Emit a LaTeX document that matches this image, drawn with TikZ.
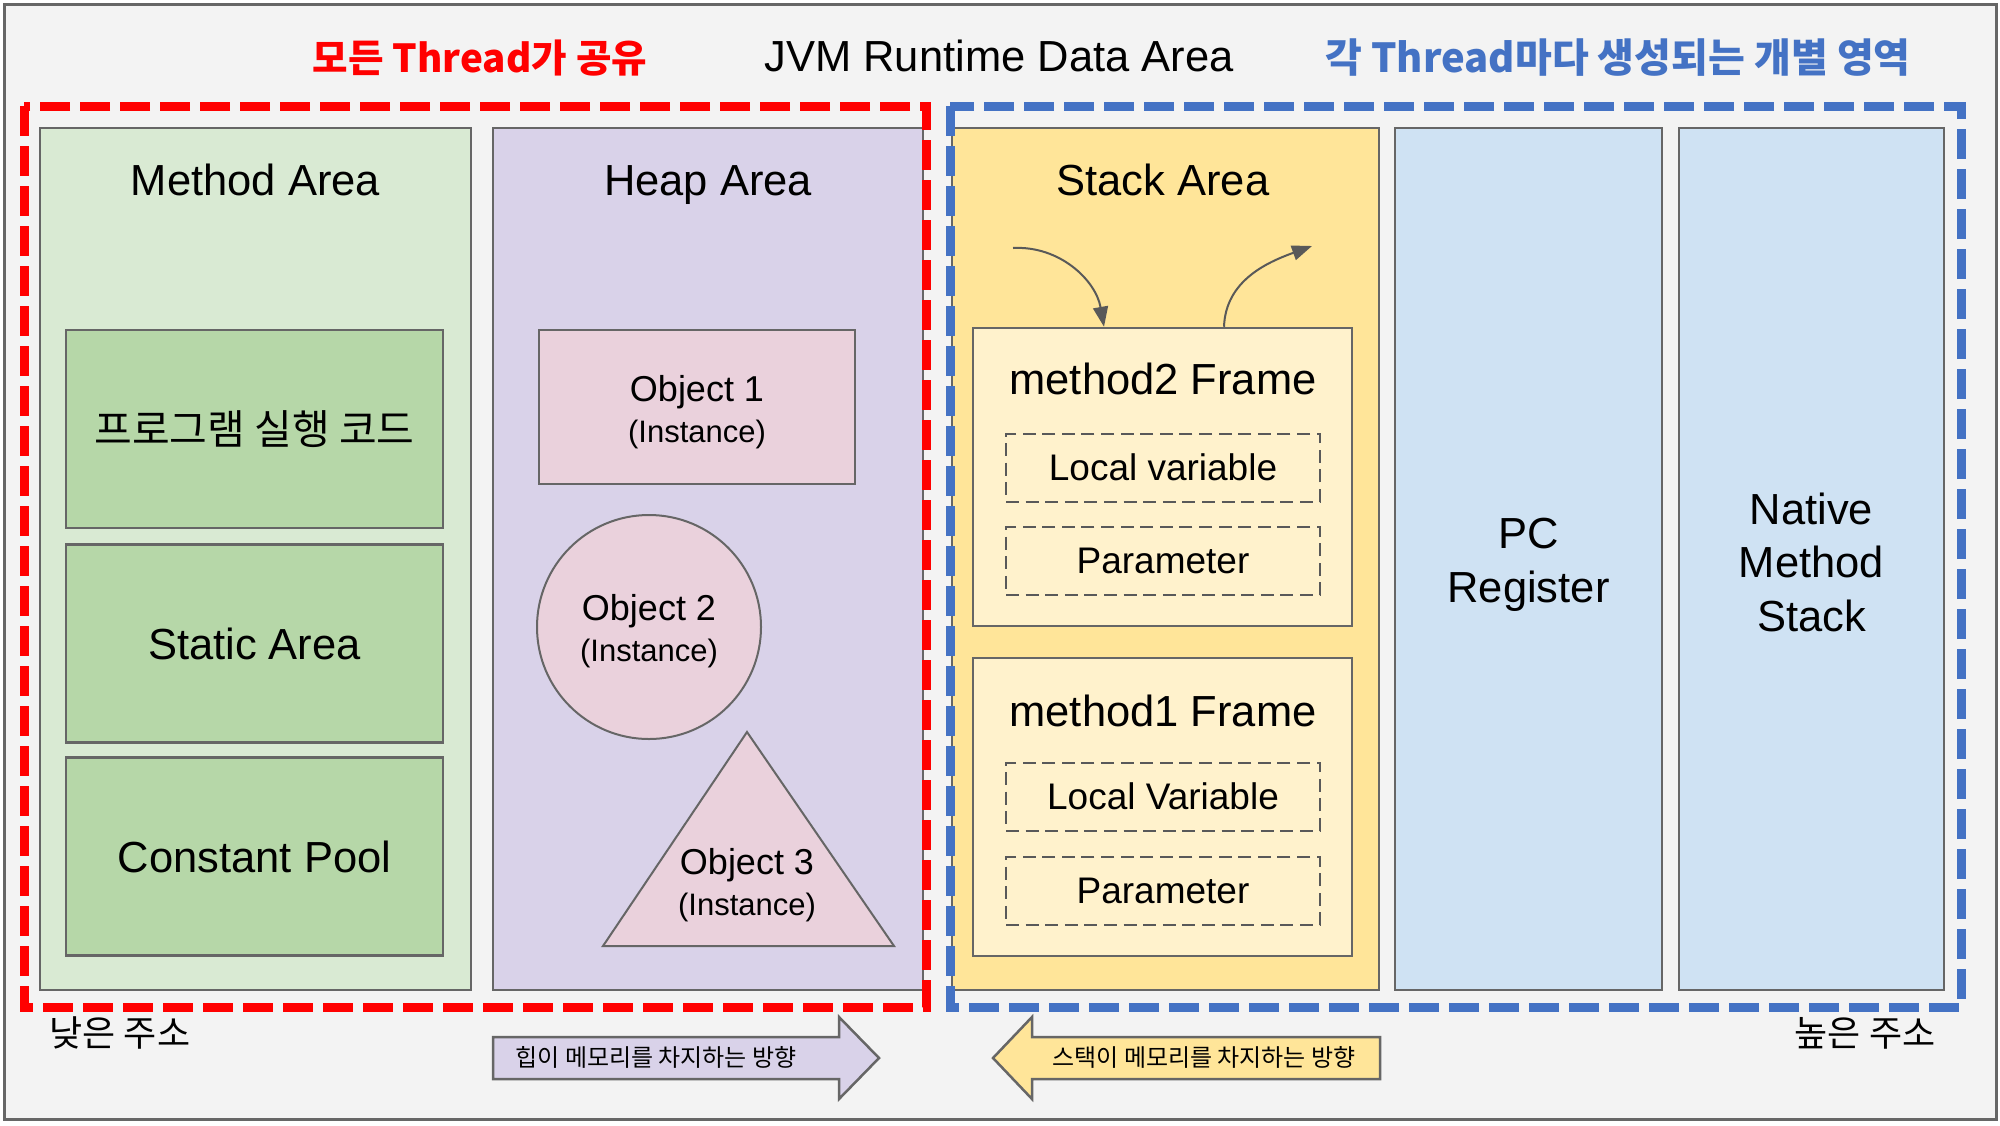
\documentclass[tikz,border=0pt]{standalone}
\usepackage{fontspec}
\setmainfont{Liberation Sans}
\newfontfamily\krfont{Noto Sans CJK KR}
\usetikzlibrary{arrows.meta}
\definecolor{bggray}{HTML}{F3F3F3}
\definecolor{linegray}{HTML}{666666}
\definecolor{arrowgray}{HTML}{595959}
\definecolor{methodfill}{HTML}{D9EAD3}
\definecolor{methodin}{HTML}{B6D7A8}
\definecolor{heapfill}{HTML}{D9D2E9}
\definecolor{objfill}{HTML}{EAD1DC}
\definecolor{stackfill}{HTML}{FFE599}
\definecolor{framefill}{HTML}{FFF2CC}
\definecolor{regfill}{HTML}{CFE2F3}
\definecolor{sharedred}{HTML}{FF0000}
\definecolor{ownblue}{HTML}{4472C4}

\newcommand\areafont{\fontsize{21.75}{26.75}\selectfont}
\newcommand\objfont{\fontsize{18}{20.5}\selectfont}
\newcommand\instfont{\fontsize{15.5}{20.5}\selectfont}
\newcommand\varfont{\fontsize{18.5}{22}\selectfont}
\newcommand\krtitle{\krfont\bfseries\fontsize{20}{24}\selectfont}
\newcommand\krlabel{\krfont\fontsize{18}{22}\selectfont}
\newcommand\krsmall{\krfont\fontsize{12}{14}\selectfont}

\tikzset{
  area/.style={draw=linegray, line width=1.25pt, inner sep=0pt, minimum height=431pt},
  areatitle/.style={anchor=base, font=\areafont},
  methodbox/.style={draw=linegray, line width=1.25pt, fill=methodin, minimum width=188.5pt, minimum height=99pt, font=\areafont},
  object/.style={draw=linegray, line width=1pt, fill=objfill},
  objtext/.style={align=center, font=\objfont},
  framebox/.style={draw=linegray, line width=1.25pt, fill=framefill, minimum width=189.5pt, minimum height=149pt},
  slot/.style={draw=arrowgray, line width=1pt, dash pattern=on 6.5pt off 3.3pt, minimum width=157pt, minimum height=34pt, font=\varfont},
  region/.style={line width=4.5pt, dash pattern=on 15pt off 5pt},
  blockarrow/.style={draw=linegray, line width=1.25pt},
  callarrow/.style={draw=arrowgray, line width=1pt, -{Triangle[length=10pt,width=7.5pt]}},
}

\begin{document}
\begin{tikzpicture}[x=0.5pt, y=-0.5pt]
  \useasboundingbox (0,0) rectangle (2000,1125);
  \draw[fill=bggray, draw=linegray, line width=1.5pt] (4,4) rectangle (1996,1119);

  \node[text=sharedred, font=\krtitle\fontsize{19.3}{24}\selectfont] (shared) at (480,58) {모든 Thread가 공유};
  \node[anchor=base, font=\areafont] (title) at (999,71) {JVM Runtime Data Area};
  \node[text=ownblue, font=\krtitle] (own) at (1618,58) {각 Thread마다 생성되는 개별 영역};

  \node[area, fill=methodfill, minimum width=215.5pt] (method) at (255.5,559) {};
  \node[areatitle] (methodtitle) at (255.5,195) {Method Area};
  \node[methodbox, font=\krfont\fontsize{20.5}{24}\selectfont] (code) at (254.5,429) {프로그램 실행 코드};
  \node[methodbox] (static) at (254.5,643.5) {Static Area};
  \node[methodbox] (pool) at (254.5,856.5) {Constant Pool};

  \node[area, fill=heapfill, minimum width=215pt] (heap) at (708,559) {};
  \node[areatitle] (heaptitle) at (708,195) {Heap Area};
  \node[object, minimum width=158pt, minimum height=77pt] (obj1) at (697,407) {};
  \node[objtext] (obj1text) at (697,412) {Object 1\\\instfont(Instance)};
  \node[object, circle, inner sep=0pt, minimum size=112pt] (obj2) at (649,627) {};
  \node[objtext] (obj2text) at (649,631) {Object 2\\\instfont(Instance)};
  \draw[object] (747,732) -- (894,946) -- (603,946) -- cycle;
  \node[objtext] (obj3) at (747,885) {Object 3\\\instfont(Instance)};

  \node[area, fill=stackfill, minimum width=213.5pt] (stack) at (1165.5,559) {};
  \node[areatitle] (stacktitle) at (1163,195) {Stack Area};
  \node[framebox] (m2) at (1162.5,477) {};
  \node[areatitle] (m2title) at (1163,394.5) {method2 Frame};
  \node[slot] (m2local) at (1163,467.5) {Local variable};
  \node[slot] (m2param) at (1163,561) {Parameter};
  \node[framebox] (m1) at (1162.5,807) {};
  \node[areatitle] (m1title) at (1163,726) {method1 Frame};
  \node[slot] (m1local) at (1163,796.5) {Local Variable};
  \node[slot] (m1param) at (1163,891) {Parameter};
  \coordinate (callin) at (1013,248);
  \coordinate (callout) at (1312,246);
  \draw[callarrow] (callin) to[out=3, in=100] ([xshift=-29.25pt]m2.north);
  \draw[callarrow] ([xshift=30.75pt]m2.north) to[out=88, in=200] (callout);

  \node[area, fill=regfill, minimum width=133.5pt] (pc) at (1528.5,559) {};
  \node[align=center, font=\areafont] (pctext) at (1528.5,565) {PC\\Register};
  \node[area, fill=regfill, minimum width=132.5pt] (native) at (1811.5,559) {};
  \node[align=center, font=\areafont] (nativetext) at (1811.5,562) {Native\\Method\\Stack};

  \draw[region, draw=sharedred] (24,106) rectangle (926,1007);
  \draw[region, draw=ownblue] (950,106) rectangle (1961,1007);

  \node[font=\krlabel] (low) at (120,1033) {낮은 주소};
  \node[font=\krlabel] (high) at (1865,1033) {높은 주소};

  \draw[blockarrow, fill=heapfill] (493,1037) -- (839,1037) -- (839,1017) -- (879,1058) -- (839,1099) -- (839,1079) -- (493,1079) -- cycle;
  \node[font=\krsmall] (heapdir) at (656,1057) {힙이 메모리를 차지하는 방향};
  \draw[blockarrow, fill=stackfill] (1380,1037) -- (1032,1037) -- (1032,1017) -- (993,1058) -- (1032,1099) -- (1032,1079) -- (1380,1079) -- cycle;
  \node[font=\krsmall] (stackdir) at (1204,1057) {스택이 메모리를 차지하는 방향};
\end{tikzpicture}
\end{document}
